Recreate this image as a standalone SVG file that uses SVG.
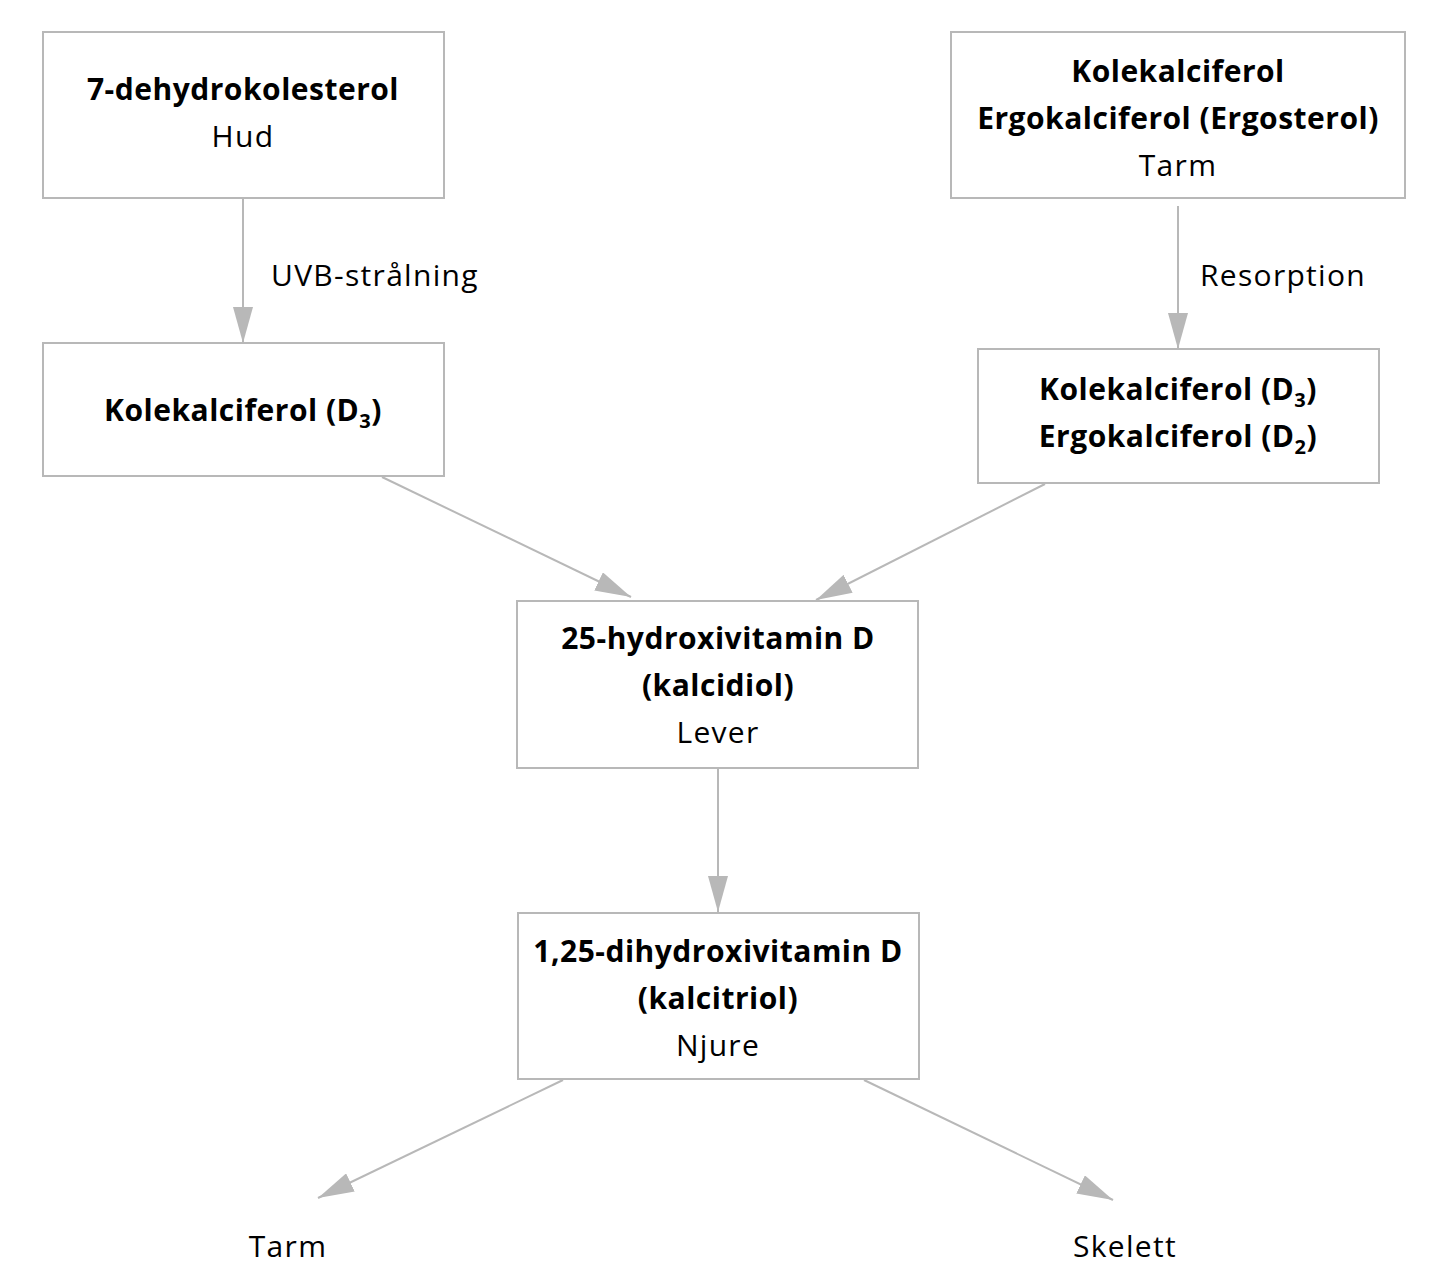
<svg xmlns="http://www.w3.org/2000/svg" width="1447" height="1288" viewBox="0 0 1447 1288">
<style>
.box{fill:#fff;stroke:#b8b8b8;stroke-width:2}
text{font-family:"Open Sans","Noto Sans",sans-serif;font-size:30px;fill:#000;text-anchor:middle;letter-spacing:1.3px}
.b{font-weight:bold;letter-spacing:0.5px}
.l{text-anchor:start}
.sub{font-size:20px}
.edge{stroke:#b8b8b8;stroke-width:2;fill:none;marker-end:url(#ah)}
</style>
<defs>
<marker id="ah" viewBox="0 0 36 20" refX="36" refY="10" markerWidth="36" markerHeight="20" markerUnits="userSpaceOnUse" orient="auto">
<path d="M0,0 L36,10 L0,20 Z" fill="#b8b8b8"/>
</marker>
</defs>
<rect width="1447" height="1288" fill="#fff"/>
<g id="connectors">
<line class="edge" x1="243" y1="199" x2="243" y2="343"/>
<line class="edge" x1="1178" y1="206" x2="1178" y2="349"/>
<line class="edge" x1="382" y1="477" x2="631" y2="597"/>
<line class="edge" x1="1045" y1="484" x2="816" y2="600"/>
<line class="edge" x1="718" y1="769" x2="718" y2="912"/>
<line class="edge" x1="563" y1="1080" x2="318" y2="1198"/>
<line class="edge" x1="864" y1="1080" x2="1113" y2="1200"/>
<text class="l" x="271" y="286">UVB-strålning</text>
<text class="l" x="1200" y="286">Resorption</text>
</g>
<g id="n1">
<rect class="box" x="43" y="32" width="401" height="166"/>
<text class="b" x="243" y="100">7-dehydrokolesterol</text>
<text x="243" y="147">Hud</text>
</g>
<g id="n2">
<rect class="box" x="951" y="32" width="454" height="166"/>
<text class="b" x="1178" y="82">Kolekalciferol</text>
<text class="b" x="1178" y="129">Ergokalciferol (Ergosterol)</text>
<text x="1178" y="176">Tarm</text>
</g>
<g id="n3">
<rect class="box" x="43" y="343" width="401" height="133"/>
<text class="b" x="243" y="421">Kolekalciferol (D<tspan class="sub" dy="7">3</tspan><tspan dy="-7">)</tspan></text>
</g>
<g id="n4">
<rect class="box" x="978" y="349" width="401" height="134"/>
<text class="b" x="1178" y="400">Kolekalciferol (D<tspan class="sub" dy="7">3</tspan><tspan dy="-7">)</tspan></text>
<text class="b" x="1178" y="447">Ergokalciferol (D<tspan class="sub" dy="7">2</tspan><tspan dy="-7">)</tspan></text>
</g>
<g id="n5">
<rect class="box" x="517" y="601" width="401" height="167"/>
<text class="b" x="718" y="649">25-hydroxivitamin D</text>
<text class="b" x="718" y="696">(kalcidiol)</text>
<text x="718" y="743">Lever</text>
</g>
<g id="n6">
<rect class="box" x="518" y="913" width="401" height="166"/>
<text class="b" x="718" y="962">1,25-dihydroxivitamin D</text>
<text class="b" x="718" y="1009">(kalcitriol)</text>
<text x="718" y="1056">Njure</text>
</g>
<g id="n7"><text x="288" y="1257">Tarm</text></g>
<g id="n8"><text x="1125" y="1257">Skelett</text></g>
</svg>
